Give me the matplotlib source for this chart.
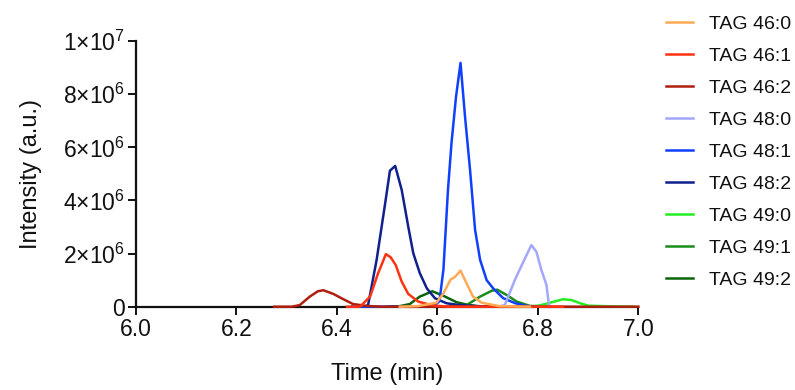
#!/usr/bin/env python3
"""
Extracted ion chromatograms, TAG species 46-49, 6.0-7.0 min
Output: out.png
"""

import matplotlib
matplotlib.use("Agg")
import matplotlib.pyplot as plt
from matplotlib.ticker import FixedLocator

plt.rcParams['font.family'] = ['Liberation Sans', 'DejaVu Sans']
plt.rcParams['mathtext.fontset'] = 'custom'
plt.rcParams['mathtext.rm'] = 'Liberation Sans'
plt.rcParams['mathtext.it'] = 'Liberation Sans'

# ── data (time in min, intensity in 1e6 a.u.) ─────────────────────────────
labels = ['TAG 46:0', 'TAG 46:1', 'TAG 46:2',
          'TAG 48:0', 'TAG 48:1', 'TAG 48:2',
          'TAG 49:0', 'TAG 49:1', 'TAG 49:2']

t_46_0 = [6.525, 6.56, 6.598, 6.612, 6.626, 6.635, 6.646, 6.658, 6.671, 6.688, 6.724, 6.784]
y_46_0 = [0, 0.02, 0.15, 0.5, 1.02, 1.12, 1.36, 0.88, 0.38, 0.15, 0.02, 0]

t_46_1 = [6.42, 6.446, 6.466, 6.482, 6.4975, 6.507, 6.517, 6.529, 6.542, 6.562, 6.59, 6.62, 6.85]
y_46_1 = [0, 0, 0.38, 1.26, 1.98, 1.86, 1.57, 0.94, 0.48, 0.19, 0.05, 0, 0]

t_46_2 = [6.275, 6.31, 6.326, 6.346, 6.362, 6.373, 6.393, 6.413, 6.432, 6.459, 6.49, 7.0]
y_46_2 = [0, 0, 0.06, 0.38, 0.58, 0.62, 0.48, 0.28, 0.10, 0.03, 0, 0]

t_48_0 = [6.72, 6.734, 6.754, 6.771, 6.787, 6.797, 6.807, 6.817, 6.822, 6.826]
y_48_0 = [0, 0.06, 1.0, 1.69, 2.32, 2.07, 1.38, 0.82, 0.06, 0]

t_48_1 = [6.43, 6.59, 6.604, 6.612, 6.621, 6.628, 6.637, 6.646, 6.655, 6.665,
          6.675, 6.685, 6.698, 6.711, 6.731, 6.755, 6.78, 6.80]
y_48_1 = [0, 0, 0.2, 1.4, 4.39, 6.15, 7.9, 9.18, 7.15, 5.14,
          2.89, 1.76, 1.0, 0.69, 0.32, 0.13, 0.02, 0]

t_48_2 = [6.43, 6.455, 6.462, 6.479, 6.496, 6.5055, 6.516, 6.529, 6.542, 6.552,
          6.565, 6.579, 6.595, 6.618, 6.645, 6.68, 6.72]
y_48_2 = [0, 0, 0.06, 1.76, 3.89, 5.12, 5.30, 4.39, 3.01, 2.01,
          1.26, 0.69, 0.32, 0.13, 0.06, 0.02, 0]

t_49_0 = [6.76, 6.784, 6.804, 6.824, 6.850, 6.867, 6.884, 6.900, 6.95, 6.99]
y_49_0 = [0, 0, 0.05, 0.15, 0.28, 0.25, 0.13, 0.04, 0.01, 0]

t_49_1 = [6.62, 6.658, 6.685, 6.708, 6.719, 6.738, 6.758, 6.784, 6.82]
y_49_1 = [0, 0.06, 0.38, 0.6, 0.64, 0.44, 0.19, 0.03, 0]

t_49_2 = [6.50, 6.525, 6.545, 6.565, 6.59, 6.612, 6.638, 6.658, 6.68, 6.72]
y_49_2 = [0, 0.02, 0.1, 0.38, 0.58, 0.41, 0.17, 0.08, 0.02, 0]

times = [t_46_0, t_46_1, t_46_2, t_48_0, t_48_1, t_48_2, t_49_0, t_49_1, t_49_2]
intens = [y_46_0, y_46_1, y_46_2, y_48_0, y_48_1, y_48_2, y_49_0, y_49_1, y_49_2]

colors = ['#ffaa55', '#ff3311', '#b01e0e',
          '#a3a8ff', '#1040ff', '#10208c',
          '#22ee22', '#1a8c1a', '#0b640b']

y_ticks = [0, 2, 4, 6, 8, 10]
y_ticklabels = ['0', r'$2{\times}10^6$', r'$4{\times}10^6$', r'$6{\times}10^6$',
                r'$8{\times}10^6$', r'$1{\times}10^7$']
x_ticks = [6.0, 6.2, 6.4, 6.6, 6.8, 7.0]

# ── figure ────────────────────────────────────────────────────────────────
fig = plt.figure(figsize=(7.95, 3.9), dpi=100)
ax = fig.add_axes([0.171, 0.2136, 0.632, 0.681])

n = len(labels)
for i, (lab, t, y, c) in enumerate(zip(labels, times, intens, colors)):
    ax.plot(t, [v * 1e6 for v in y], color=c, lw=1.8, label=lab,
            clip_on=False, zorder=3 + (n - i))

ax.set_xlim(6.0, 7.0)
ax.set_ylim(0, 1e7)
ax.xaxis.set_major_locator(FixedLocator(x_ticks))
ax.set_xticklabels([f'{v:.1f}' for v in x_ticks])
ax.yaxis.set_major_locator(FixedLocator([v * 1e6 for v in y_ticks]))
ax.set_yticklabels(y_ticklabels)

for s in ['top', 'right']:
    ax.spines[s].set_visible(False)
for s in ['left', 'bottom']:
    ax.spines[s].set_linewidth(1.6)
    ax.spines[s].set_color('#111111')
ax.tick_params(direction='out', length=6, width=1.4, labelsize=16.5,
               colors='#111111', pad=2)

ax.set_xlabel('Time (min)', fontsize=17, color='#111111', labelpad=16)
ax.set_ylabel('Intensity (a.u.)', fontsize=17, color='#111111', labelpad=15)

leg = ax.legend(loc='upper left', bbox_to_anchor=(1.04, 1.125), frameon=False,
                fontsize=14, handlelength=1.4, handletextpad=0.8,
                labelspacing=0.74, borderaxespad=0)
for txt in leg.get_texts():
    txt.set_color('#111111')

plt.savefig('out.png', dpi=100)
